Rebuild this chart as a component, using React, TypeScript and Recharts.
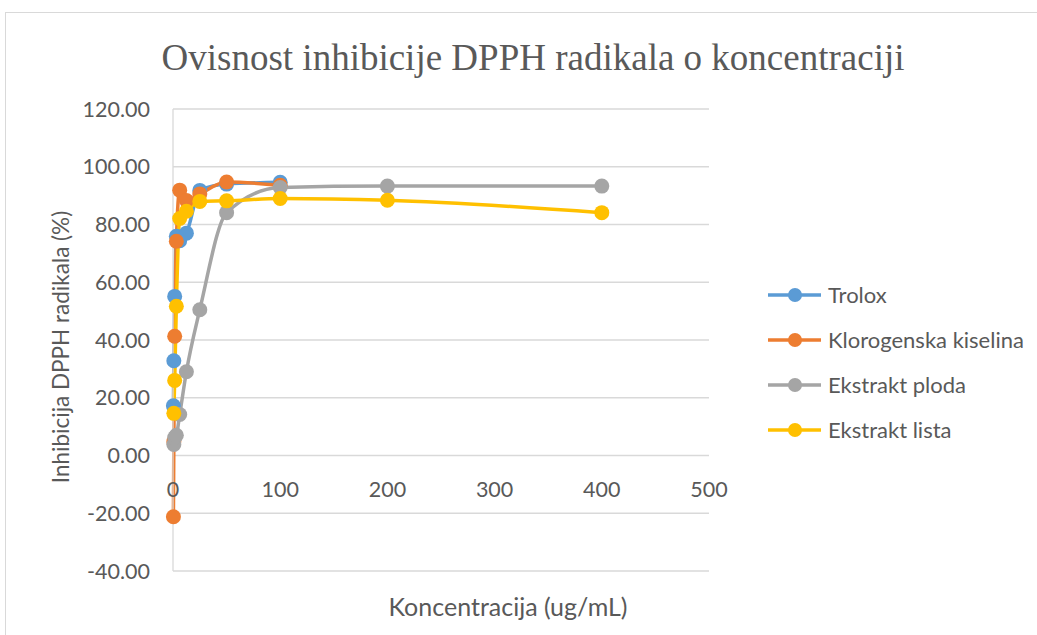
import React from 'react';
import { LineChart, Line, XAxis, YAxis, CartesianGrid, Legend } from 'recharts';

// concentrations (ug/mL) and inhibition (%) per sample
const troloxConc = [0.39, 0.78, 1.56, 3.125, 6.25, 12.5, 25, 50, 100];
const troloxInh = [17.2, 32.8, 55.1, 75.9, 74.4, 77.0, 91.8, 94.0, 94.6];

const kiselinaConc = [0.39, 0.78, 1.56, 3.125, 6.25, 12.5, 25, 50, 100];
const kiselinaInh = [-21.2, 4.8, 41.3, 74.2, 91.9, 88.3, 90.6, 94.7, 93.6];

const plodConc = [0.78, 1.56, 3.125, 6.25, 12.5, 25, 50, 100, 200, 400];
const plodInh = [3.8, 6.2, 7.0, 14.2, 29.0, 50.5, 84.1, 92.8, 93.3, 93.3];

const listConc = [0.78, 1.56, 3.125, 6.25, 12.5, 25, 50, 100, 200, 400];
const listInh = [14.6, 26.0, 51.7, 82.1, 84.6, 88.0, 88.2, 89.0, 88.4, 84.1];

const xTicks = [0, 100, 200, 300, 400, 500];
const yTicks = [-40, -20, 0, 20, 40, 60, 80, 100, 120];

const W = 1037;
const H = 635;
const X_AXIS_H = 30;
const MARGIN = { top: 109, right: 328, bottom: 64 - X_AXIS_H, left: 0 };
const PLOT_H = H - MARGIN.top - MARGIN.bottom - X_AXIS_H;
const Y_MIN = -40;
const Y_MAX = 120;
const TEXT = '#595959';
const FONT = 'Lato, "Open Sans", sans-serif';

const toPoints = (xs: number[], ys: number[]) => xs.map((x, i) => ({ x, y: ys[i] }));

const series = [
  { name: 'Trolox', color: '#5B9BD5', data: toPoints(troloxConc, troloxInh) },
  { name: 'Klorogenska kiselina', color: '#ED7D31', data: toPoints(kiselinaConc, kiselinaInh) },
  { name: 'Ekstrakt ploda', color: '#A5A5A5', data: toPoints(plodConc, plodInh) },
  { name: 'Ekstrakt lista', color: '#FFC000', data: toPoints(listConc, listInh) },
];
const legendOrder = series.map((s) => s.name);

// x tick labels sit under the zero line, like Excel's crossing axis
const zeroY = MARGIN.top + (PLOT_H * (Y_MAX - 0)) / (Y_MAX - Y_MIN);

const XTick = (props: any) => {
  const { x, payload } = props;
  return (
    <text x={x} y={zeroY + 33} textAnchor="middle" dominantBaseline="central"
      fill={TEXT} fontSize={21.5} fontFamily={FONT}>
      {payload.value}
    </text>
  );
};

const LegendBox = (props: any) => {
  const items = [...(props.payload || [])].sort(
    (a: any, b: any) => legendOrder.indexOf(a.value) - legendOrder.indexOf(b.value)
  );
  return (
    <div>
      {items.map((it: any) => (
        <div key={it.value} style={{ display: 'flex', alignItems: 'center', height: 45 }}>
          <svg width={60} height={20}>
            <line x1={0} y1={10} x2={53} y2={10} stroke={it.color} strokeWidth={3.5} />
            <circle cx={27} cy={10} r={7} fill={it.color} />
          </svg>
          <span style={{ fontFamily: FONT, fontSize: 22, color: TEXT, whiteSpace: 'nowrap' }}>{it.value}</span>
        </div>
      ))}
    </div>
  );
};

export default function App() {
  return (
    <div style={{ position: 'absolute', left: 0, top: 0, width: W, height: H, overflow: 'hidden', background: '#fff' }}>
      <div style={{ position: 'absolute', left: 5, top: 12, width: W + 20, height: H + 20, border: '1px solid #d9d9d9' }} />
      <div style={{
        position: 'absolute', left: 533, top: 57, transform: 'translate(-50%, -50%)',
        fontFamily: '"Liberation Serif", "Times New Roman", serif', fontSize: 37, color: TEXT, whiteSpace: 'nowrap',
      }}>
        Ovisnost inhibicije DPPH radikala o koncentraciji
      </div>
      <div style={{
        position: 'absolute', left: 60, top: 347, transform: 'translate(-50%, -50%) rotate(-90deg)',
        fontFamily: FONT, fontSize: 22.5, color: TEXT, whiteSpace: 'nowrap',
      }}>
        Inhibicija DPPH radikala (%)
      </div>
      <div style={{
        position: 'absolute', left: 508, top: 606, transform: 'translate(-50%, -50%)',
        fontFamily: FONT, fontSize: 25, color: TEXT, whiteSpace: 'nowrap',
      }}>
        Koncentracija (ug/mL)
      </div>
      <LineChart width={W} height={H} margin={MARGIN} style={{ position: 'absolute', left: 0, top: 0 }}>
        <CartesianGrid vertical={false} stroke="#d9d9d9" strokeWidth={1.3} />
        <XAxis type="number" dataKey="x" domain={[0, 500]} ticks={xTicks} interval={0}
          axisLine={false} tickLine={false} height={X_AXIS_H} tick={<XTick />} />
        <YAxis type="number" domain={[Y_MIN, Y_MAX]} ticks={yTicks} interval={0} width={173}
          tickFormatter={(v: number) => v.toFixed(2)} tickLine={false} tickSize={0} tickMargin={23}
          axisLine={{ stroke: '#d9d9d9', strokeWidth: 1.3 }}
          tick={{ fill: TEXT, fontSize: 21.5, fontFamily: FONT }} />
        <Legend layout="vertical" align="center" verticalAlign="middle" content={<LegendBox />}
          wrapperStyle={{ left: 768, top: 272, width: 269 }} />
        {series.map((s) => (
          <Line key={s.name} name={s.name} data={s.data} dataKey="y" type="monotone"
            stroke={s.color} strokeWidth={3.5}
            dot={{ r: 7.5, fill: s.color, stroke: s.color, strokeWidth: 0 }}
            activeDot={false} isAnimationActive={false} />
        ))}
      </LineChart>
    </div>
  );
}
